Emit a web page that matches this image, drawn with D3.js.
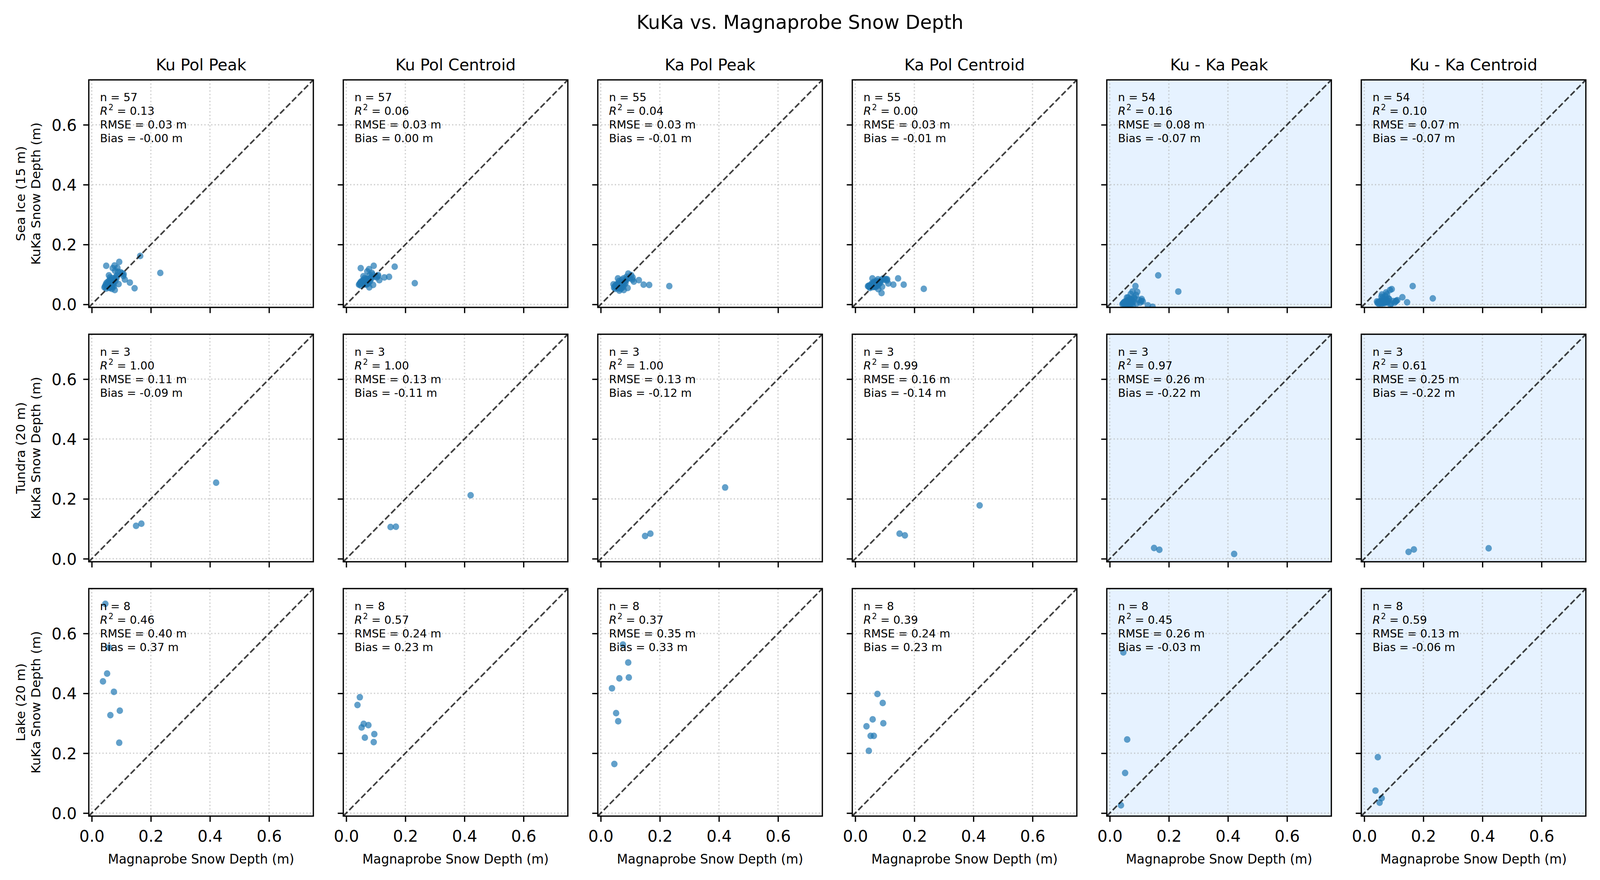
<!DOCTYPE html>
<html><head><meta charset="utf-8">
<script src="https://cdn.jsdelivr.net/npm/d3@7"></script>
<style>html,body{margin:0;padding:0;background:#fff;overflow:hidden;} svg{display:block;width:100vw;height:100vh;}</style>
</head><body><svg id="chart" viewBox="0 0 4204 2253" preserveAspectRatio="none"></svg>
<script>
// ---------------- DATA ----------------
const figTitle = "KuKa vs. Magnaprobe Snow Depth";
const panelTitles = ["Ku Pol Peak", "Ku Pol Centroid", "Ka Pol Peak", "Ka Pol Centroid", "Ku - Ka Peak", "Ku - Ka Centroid"];
const rowLabels = ["Sea Ice (15 m)", "Tundra (20 m)", "Lake (20 m)"];
const yLabelLine2 = "KuKa Snow Depth (m)";
const xLabel = "Magnaprobe Snow Depth (m)";
const tickValues = [0.0, 0.2, 0.4, 0.6];
const tickLabels = ["0.0", "0.2", "0.4", "0.6"];
const shadedColumns = [false, false, false, false, true, true];

// Sea ice (magnaprobe depth, m)
const seaIceX = [0.232,0.164,0.145,0.129,0.112,0.108,0.107,0.103,0.098,0.093,
  0.091,0.089,0.087,0.084,0.082,0.080,0.078,0.077,0.076,0.075,
  0.074,0.073,0.072,0.071,0.071,0.070,0.069,0.068,0.068,0.067,
  0.066,0.065,0.065,0.064,0.063,0.062,0.062,0.061,0.060,0.060,
  0.059,0.058,0.058,0.057,0.056,0.055,0.054,0.053,0.052,0.050,
  0.049,0.049,0.047,0.045,0.043,0.085,0.079];
const kuPolPeakSea = [0.105,0.162,0.054,0.073,0.083,0.101,0.095,0.104,0.107,0.142,
  0.068,0.109,0.122,0.088,0.092,0.078,0.048,0.130,0.085,0.060,
  0.071,0.080,0.065,0.121,0.075,0.058,0.088,0.070,0.052,0.078,
  0.063,0.083,0.068,0.057,0.074,0.090,0.062,0.070,0.055,0.080,
  0.066,0.097,0.060,0.072,0.064,0.076,0.058,0.068,0.062,0.072,
  0.129,0.053,0.066,0.060,0.057,0.096,0.112];
const kuPolCentroidSea = [0.071,0.126,0.092,0.090,0.081,0.098,0.094,0.090,0.093,0.129,
  0.065,0.100,0.105,0.085,0.088,0.077,0.057,0.118,0.082,0.070,
  0.076,0.084,0.072,0.110,0.079,0.068,0.086,0.074,0.066,0.080,
  0.071,0.083,0.075,0.068,0.078,0.088,0.070,0.076,0.067,0.082,
  0.073,0.094,0.070,0.077,0.072,0.079,0.069,0.074,0.071,0.076,
  0.121,0.063,0.072,0.068,0.066,0.091,0.098];
const kaPolPeakSea = [0.061,0.065,0.066,0.081,0.076,0.090,0.083,0.098,0.088,0.103,
  0.055,0.085,0.092,0.072,0.078,0.066,0.048,0.087,0.070,0.058,
  0.064,0.074,0.060,0.082,0.068,0.055,0.075,0.063,0.052,0.070,
  0.060,0.072,0.064,0.056,0.046,0.078,0.058,0.066,0.053,0.070,
  0.062,0.087,0.058,0.065,0.060,0.068,0.055,0.062,0.058,0.064,
  null,0.052,0.060,0.056,0.067,0.080,null];
const kaPolCentroidSea = [0.052,0.066,0.087,0.066,0.070,0.084,0.080,0.085,0.082,0.086,
  0.059,0.038,0.080,0.072,0.076,0.068,0.051,0.084,0.070,0.062,
  0.066,0.074,0.063,0.078,0.069,0.060,0.073,0.065,0.058,0.070,
  0.064,0.072,0.066,0.060,0.068,0.075,0.062,0.067,0.058,0.071,
  0.064,0.087,0.061,0.066,0.063,0.069,0.060,0.064,0.062,0.055,
  null,0.058,0.063,0.060,0.061,0.078,null];
const kuKaPeakSea = [0.043,0.097,-0.008,-0.003,0.010,0.018,0.012,0.006,0.015,0.042,
  0.003,0.031,0.061,0.020,0.024,0.010,-0.004,0.043,0.014,0.002,
  0.008,0.016,0.006,0.035,0.011,0.004,0.018,0.007,-0.002,0.012,
  0.005,0.015,0.008,0.001,0.010,0.023,0.004,0.009,-0.001,0.013,
  0.006,0.023,0.003,0.008,0.005,0.011,0.002,0.007,0.004,0.009,
  null,0.001,0.006,0.003,0.001,null,null];
const kuKaCentroidSea = [0.020,0.061,0.007,0.024,0.014,0.012,0.010,0.006,0.011,0.051,
  0.003,-0.001,0.048,0.018,0.020,0.012,0.006,0.034,0.015,0.008,
  0.040,0.016,0.009,0.028,0.013,0.007,0.018,0.010,0.004,0.014,
  0.008,0.016,0.010,0.005,0.012,0.022,0.006,0.011,0.003,0.033,
  0.008,0.026,0.005,0.010,0.007,0.012,0.004,0.009,0.006,0.007,
  null,0.002,0.008,0.005,0.010,null,null];

// Tundra
const tundraX = [0.150, 0.168, 0.421];
const kuPolPeakTundra = [0.110, 0.117, 0.254];
const kuPolCentroidTundra = [0.106, 0.107, 0.212];
const kaPolPeakTundra = [0.076, 0.084, 0.238];
const kaPolCentroidTundra = [0.084, 0.078, 0.178];
const kuKaPeakTundra = [0.036, 0.030, 0.016];
const kuKaCentroidTundra = [0.023, 0.031, 0.035];

// Lake
const lakeX = [0.038, 0.046, 0.052, 0.059, 0.063, 0.075, 0.093, 0.095];
const kuPolPeakLake = [0.440, 0.699, 0.466, 0.553, 0.327, 0.405, 0.235, 0.342];
const kuPolCentroidLake = [0.361, 0.387, 0.286, 0.298, 0.252, 0.294, 0.237, 0.264];
const kaPolPeakLake = [0.417, 0.164, 0.334, 0.307, 0.450, 0.563, 0.503, 0.453];
const kaPolCentroidLake = [0.290, 0.208, 0.258, 0.313, 0.258, 0.398, 0.368, 0.300];
const kuKaPeakLake = [0.026, 0.537, 0.134, 0.246, -0.120, -0.160, -0.200, -0.180];
const kuKaCentroidLake = [0.075, 0.187, 0.035, 0.050, -0.050, -0.070, -0.090, -0.095];

// Statistics shown in each panel (rows: sea ice, tundra, lake)
const nValues = [[57,57,55,55,54,54],[3,3,3,3,3,3],[8,8,8,8,8,8]];
const r2Values = [["0.13","0.06","0.04","0.00","0.16","0.10"],
                  ["1.00","1.00","1.00","0.99","0.97","0.61"],
                  ["0.46","0.57","0.37","0.39","0.45","0.59"]];
const rmseValues = [["0.03","0.03","0.03","0.03","0.08","0.07"],
                    ["0.11","0.13","0.13","0.16","0.26","0.25"],
                    ["0.40","0.24","0.35","0.24","0.26","0.13"]];
const biasValues = [["-0.00","0.00","-0.01","-0.01","-0.07","-0.07"],
                    ["-0.09","-0.11","-0.12","-0.14","-0.22","-0.22"],
                    ["0.37","0.23","0.33","0.23","-0.03","-0.06"]];

const xByRow = [seaIceX, tundraX, lakeX];
const yByRow = [
  [kuPolPeakSea, kuPolCentroidSea, kaPolPeakSea, kaPolCentroidSea, kuKaPeakSea, kuKaCentroidSea],
  [kuPolPeakTundra, kuPolCentroidTundra, kaPolPeakTundra, kaPolCentroidTundra, kuKaPeakTundra, kuKaCentroidTundra],
  [kuPolPeakLake, kuPolCentroidLake, kaPolPeakLake, kaPolCentroidLake, kuKaPeakLake, kuKaCentroidLake]
];

// ---------------- LAYOUT ----------------
const FONT = "DejaVu Sans, sans-serif";
const left0 = 233.3, colStep = 668.7, W = 590;
const top0 = 204.5, rowStep = 651.2, H = 582.5;
const LW = 3.33, TICK = 14.6;
const lim = [-0.01, 0.75];

const x = d3.scaleLinear().domain(lim).range([0, W]);
const y = d3.scaleLinear().domain(lim).range([H, 0]);

const svg = d3.select('#chart').style('font-family', FONT);
svg.append('rect').attr('width', 4204).attr('height', 2253).attr('fill', '#fff');

svg.append('text').attr('x', 2102).attr('y', 74).attr('text-anchor', 'middle')
  .attr('font-size', 50).attr('fill', '#000').text(figTitle);

const defs = svg.append('defs');
defs.append('clipPath').attr('id', 'panelClip')
  .append('rect').attr('x', 0).attr('y', 0).attr('width', W).attr('height', H);

for (let r = 0; r < 3; r++) {
  for (let c = 0; c < 6; c++) {
    const g = svg.append('g').attr('transform', `translate(${left0 + c*colStep},${top0 + r*rowStep})`);
    g.append('rect').attr('width', W).attr('height', H)
      .attr('fill', shadedColumns[c] ? '#e6f2ff' : '#ffffff');

    // grid
    const grid = g.append('g').attr('clip-path', 'url(#panelClip)');
    grid.selectAll('line.gx').data(tickValues).join('line').attr('class', 'gx')
      .attr('x1', d => x(d)).attr('x2', d => x(d)).attr('y1', 0).attr('y2', H);
    grid.selectAll('line.gy').data(tickValues).join('line').attr('class', 'gy')
      .attr('x1', 0).attr('x2', W).attr('y1', d => y(d)).attr('y2', d => y(d));
    grid.selectAll('line').attr('stroke', '#b0b0b0').attr('stroke-opacity', 0.6)
      .attr('stroke-width', LW).attr('stroke-dasharray', '3.33,5.6');

    // points
    const xs = xByRow[r], ys = yByRow[r][c];
    const pts = xs.map((v, i) => ({x: v, y: ys[i]})).filter(d => d.y !== null);
    const plot = g.append('g').attr('clip-path', 'url(#panelClip)');
    plot.selectAll('circle').data(pts).join('circle')
      .attr('cx', d => x(d.x)).attr('cy', d => y(d.y)).attr('r', 8.5)
      .attr('fill', '#1f77b4').attr('fill-opacity', 0.7);

    // 1:1 line
    plot.append('line')
      .attr('x1', x(lim[0])).attr('y1', y(lim[0])).attr('x2', x(lim[1])).attr('y2', y(lim[1]))
      .attr('stroke', '#000').attr('stroke-opacity', 0.75).attr('stroke-width', 4.17)
      .attr('stroke-dasharray', '15.4,6.67');

    // axes
    const xAxis = d3.axisBottom(x).tickValues(tickValues).tickSize(TICK).tickPadding(21.5)
      .tickFormat((d, i) => r === 2 ? tickLabels[i] : '');
    const gx = g.append('g').attr('transform', `translate(0,${H})`).call(xAxis);
    const yAxis = d3.axisLeft(y).tickValues(tickValues).tickSize(TICK).tickPadding(17)
      .tickFormat((d, i) => c === 0 ? tickLabels[i] : '');
    const gy = g.append('g').call(yAxis);
    [gx, gy].forEach(a => {
      a.select('.domain').remove();
      a.attr('font-family', FONT).attr('font-size', 41.67);
      a.selectAll('.tick line').attr('stroke', '#000').attr('stroke-width', LW);
      a.selectAll('.tick text').attr('fill', '#000');
    });
    gy.selectAll('.tick text').attr('dy', '0.35em');

    // spines
    g.append('rect').attr('width', W).attr('height', H)
      .attr('fill', 'none').attr('stroke', '#000').attr('stroke-width', LW);

    // stats annotation
    const tx = 0.05 * W, ty = 0.05 * H + 25.7, step = 35;
    const ann = g.append('text').attr('font-size', 29.17).attr('fill', '#000');
    ann.append('tspan').attr('x', tx).attr('y', ty).text(`n = ${nValues[r][c]}`);
    ann.append('tspan').attr('x', tx).attr('y', ty + step).attr('font-style', 'italic').text('R');
    ann.append('tspan').attr('dy', -12).attr('dx', 2).attr('font-size', 20.4).text('2');
    ann.append('tspan').attr('dy', 12).text(` = ${r2Values[r][c]}`);
    ann.append('tspan').attr('x', tx).attr('y', ty + 2*step).text(`RMSE = ${rmseValues[r][c]} m`);
    ann.append('tspan').attr('x', tx).attr('y', ty + 3*step).text(`Bias = ${biasValues[r][c]} m`);

    if (r === 0) {
      g.append('text').attr('x', W/2).attr('y', -25).attr('text-anchor', 'middle')
        .attr('font-size', 41.67).attr('fill', '#000').text(panelTitles[c]);
    }
    if (r === 2) {
      g.append('text').attr('x', W/2).attr('y', H + 2210 - 2088.3).attr('text-anchor', 'middle')
        .attr('font-size', 33.33).attr('fill', '#000').text(xLabel);
    }
    if (c === 0) {
      const cy = H/2;
      g.append('text').attr('transform', `translate(${66 - left0},${cy}) rotate(-90)`)
        .attr('text-anchor', 'middle').attr('font-size', 33.33).attr('fill', '#000').text(rowLabels[r]);
      g.append('text').attr('transform', `translate(${106 - left0},${cy}) rotate(-90)`)
        .attr('text-anchor', 'middle').attr('font-size', 33.33).attr('fill', '#000').text(yLabelLine2);
    }
  }
}
</script></body></html>
